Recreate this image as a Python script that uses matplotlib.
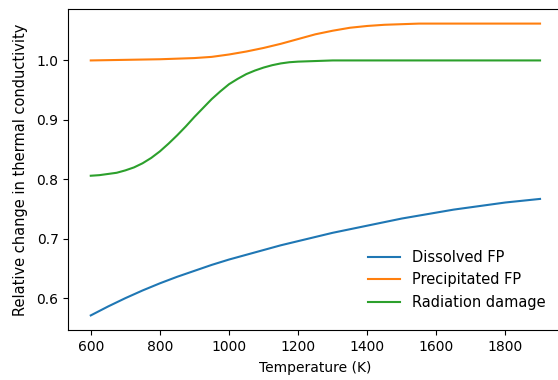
import matplotlib
matplotlib.use("Agg")
import matplotlib.pyplot as plt

temp_dissolved = [600, 650, 700, 750, 800, 850, 900, 950, 1000, 1050, 1100, 1150, 1200, 1250,
                  1300, 1350, 1400, 1450, 1500, 1550, 1600, 1650, 1700, 1750, 1800, 1850, 1900]
dissolved_fp = [0.571, 0.586, 0.600, 0.613, 0.625, 0.636, 0.646, 0.656, 0.665, 0.673, 0.681,
                0.689, 0.696, 0.703, 0.710, 0.716, 0.722, 0.728, 0.734, 0.739, 0.744, 0.749,
                0.753, 0.757, 0.761, 0.764, 0.767]

temp_precip = [600, 700, 800, 850, 900, 950, 1000, 1050, 1100, 1150, 1200, 1250, 1300, 1350,
               1400, 1450, 1500, 1550, 1600, 1700, 1800, 1900]
precipitated_fp = [1.000, 1.001, 1.002, 1.003, 1.004, 1.006, 1.010, 1.015, 1.021, 1.028, 1.036,
                   1.044, 1.050, 1.055, 1.058, 1.060, 1.061, 1.062, 1.062, 1.062, 1.062, 1.062]

temp_rad = [600, 625, 650, 675, 700, 725, 750, 775, 800, 825, 850, 875, 900, 925, 950, 975,
            1000, 1025, 1050, 1075, 1100, 1125, 1150, 1175, 1200, 1250, 1300, 1400, 1500,
            1600, 1700, 1800, 1900]
radiation_damage = [0.806, 0.807, 0.809, 0.811, 0.815, 0.820, 0.827, 0.836, 0.847, 0.860,
                    0.874, 0.889, 0.905, 0.920, 0.935, 0.948, 0.960, 0.969, 0.977, 0.983,
                    0.988, 0.992, 0.995, 0.997, 0.998, 0.999, 1.000, 1.000, 1.000, 1.000,
                    1.000, 1.000, 1.000]

W, H = 558, 380
fig = plt.figure(figsize=(W / 100, H / 100), dpi=100)
ax = fig.add_axes([68.3 / W, 50 / H, 494.2 / W, 321 / H])

ax.plot(temp_dissolved, dissolved_fp, label="Dissolved FP")
ax.plot(temp_precip, precipitated_fp, label="Precipitated FP")
ax.plot(temp_rad, radiation_damage, label="Radiation damage")

ax.set_xticks([600, 800, 1000, 1200, 1400, 1600, 1800])
ax.set_yticks([0.6, 0.7, 0.8, 0.9, 1.0])
ax.set_xlabel("Temperature (K)", labelpad=5)
ax.set_ylabel("Relative change in thermal conductivity", fontsize=10.5, labelpad=6.5)
ax.legend(loc="lower right", frameon=False, fontsize=10.5, handlelength=2.2,
          bbox_to_anchor=(1 - 11.5 / 494.2, 14.5 / 321), borderaxespad=0)

fig.savefig("out.png", dpi=100)
